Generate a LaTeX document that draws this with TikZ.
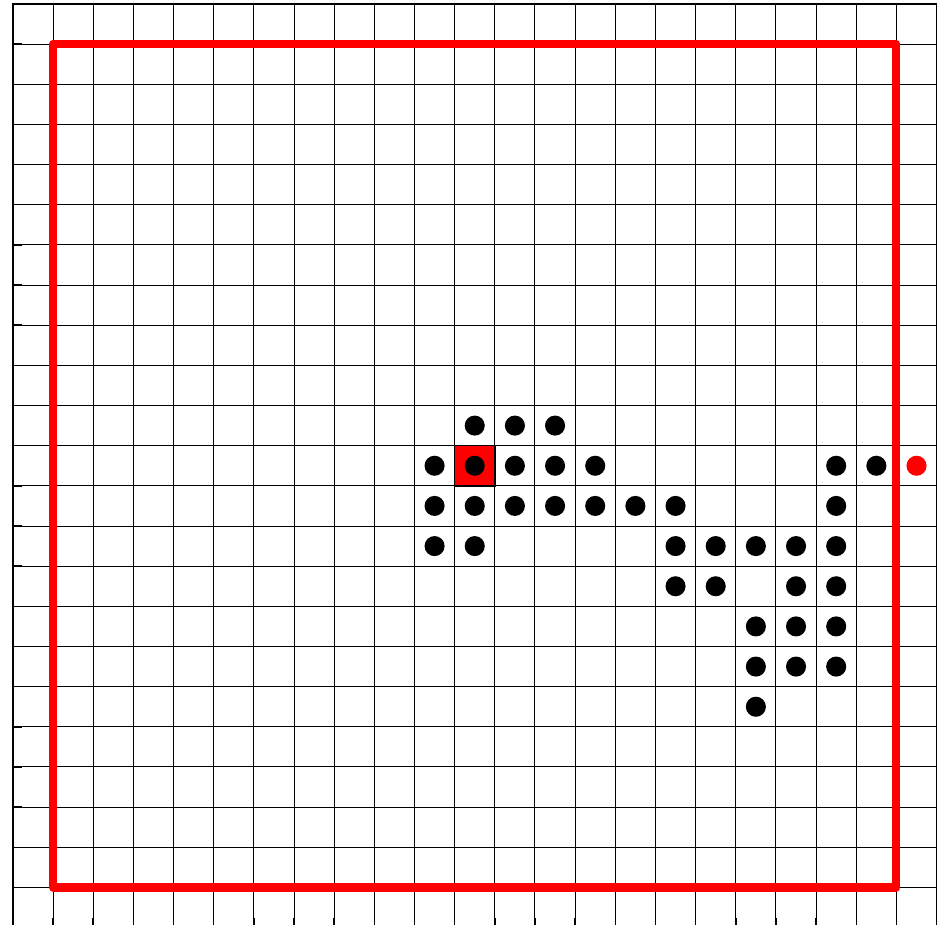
\documentclass[tikz,border=0pt]{standalone}
\begin{document}
\begin{tikzpicture}[gridline/.style={line width=0.7pt}, wall/.style={red, line width=5.7pt, line join=round}]
\useasboundingbox (-0.32,0.07) rectangle (23.01,23.097);
\clip (-0.32,0.07) rectangle (23.01,23.097);
\draw[gridline] (0,0) grid (23,23);
\draw[line width=1pt] (0,0)--(0,23)--(23,23);
\foreach \j in {0,...,23} \draw[line width=1pt](0,\j)--(0.22,\j);
\foreach \i in {0,...,23} \draw[line width=1pt](\i,0)--(\i,0.25);
\draw[wall] (1,1) rectangle (22,22);
\filldraw[fill=red, draw=black, line width=1pt] (11,11) rectangle (12,12);
\foreach \p in {(11.5,12.5),(12.5,12.5),(13.5,12.5),
  (10.5,11.5),(11.5,11.5),(12.5,11.5),(13.5,11.5),(14.5,11.5),(20.5,11.5),(21.5,11.5),
  (10.5,10.5),(11.5,10.5),(12.5,10.5),(13.5,10.5),(14.5,10.5),(15.5,10.5),(16.5,10.5),(20.5,10.5),
  (10.5,9.5),(11.5,9.5),(16.5,9.5),(17.5,9.5),(18.5,9.5),(19.5,9.5),(20.5,9.5),
  (16.5,8.5),(17.5,8.5),(19.5,8.5),(20.5,8.5),
  (18.5,7.5),(19.5,7.5),(20.5,7.5),
  (18.5,6.5),(19.5,6.5),(20.5,6.5),
  (18.5,5.5)}
  \fill \p circle (0.25);
\fill[red] (22.5,11.5) circle (0.25);
\end{tikzpicture}
\end{document}
